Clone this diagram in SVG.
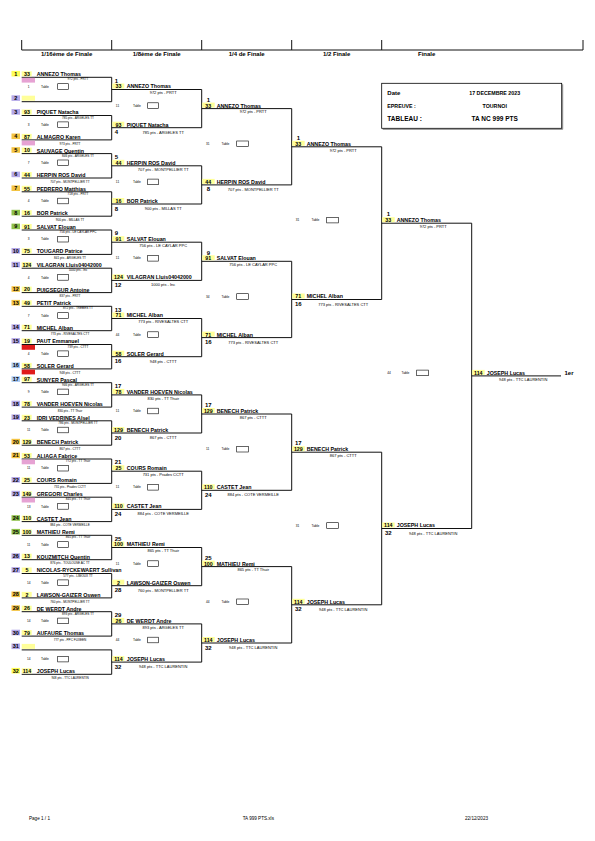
<svg xmlns="http://www.w3.org/2000/svg" width="595" height="841" viewBox="0 0 595 841">
<style>
text{font-family:'Liberation Sans',Arial,sans-serif;fill:#000}
.nm{font-size:5.3px;font-weight:bold}
.sd{font-size:5.3px;font-weight:bold;text-anchor:middle}
.nb{font-size:5.5px;font-weight:bold;text-anchor:middle}
.lb{font-size:6px;font-weight:bold;text-anchor:middle}
.p3{font-size:3.1px;text-anchor:middle}
.p4{font-size:4px;text-anchor:middle}
.tn{font-size:3.2px;text-anchor:middle}
.tt{font-size:3.3px}
.tbx{fill:#fff;stroke:#000;stroke-width:0.6}
.ln{fill:none;stroke:#111;stroke-width:1}
.hd{font-size:6px;font-weight:bold;text-anchor:middle}
.ib{font-size:5.3px;font-weight:bold}
.ibc{font-size:5.3px;font-weight:bold;text-anchor:middle}
.ft{font-size:4.6px}
.cy{fill:#ffff55}.cl{fill:#b4a8e8}.cg{fill:#f3c443}.cG{fill:#8fc14c}.cb{fill:#a9c9f2}
.sb{fill:#ffff99}.pk{fill:#e6a2d3}.rd{fill:#e01b1b}
</style>

<g id="header">
<path class="ln" d="M21.7 40V50H583V40M111.7 40V50M201.7 40V50M291.7 40V50M381.7 40V50"/>
<text class="hd" x="66.7" y="56">1/16ème de Finale</text>
<text class="hd" x="156.7" y="56">1/8ème de Finale</text>
<text class="hd" x="246.7" y="56">1/4 de Finale</text>
<text class="hd" x="336.7" y="56">1/2  Finale</text>
<text class="hd" x="426.7" y="56">Finale</text>
</g>

<g id="infobox">
<path d="M382.7 129.3H562.7V84.3" fill="none" stroke="#888" stroke-width="1"/>
<rect x="381.7" y="83.3" width="180" height="45" fill="#fff" stroke="#000" stroke-width="0.8"/>
<text class="ib" x="387.3" y="95.3" style="font-size:6px">Date</text>
<text class="ibc" x="494.7" y="95.3">17 DECEMBRE 2023</text>
<text class="ib" x="387.3" y="107.7">EPREUVE :</text>
<text class="ibc" x="494.7" y="107.7">TOURNOI</text>
<text class="ib" x="387.3" y="120.7" style="font-size:6.5px">TABLEAU :</text>
<text class="ibc" x="494.7" y="120.7" style="font-size:6.5px">TA NC  999 PTS</text>
</g>

<g id="connectors">
<path class="ln" d="M21.7 77.3H111.7V101.7H21.7M21.7 115.5H111.7V139.9H21.7M21.7 153.6H111.7V178H21.7M21.7 191.8H111.7V216.2H21.7M21.7 230H111.7V254.4H21.7M21.7 268.2H111.7V292.6H21.7M21.7 306.3H111.7V330.7H21.7M21.7 344.5H111.7V368.9H21.7M21.7 382.7H111.7V407.1H21.7M21.7 420.8H111.7V445.2H21.7M21.7 459H111.7V483.4H21.7M21.7 497.2H111.7V521.6H21.7M21.7 535.3H111.7V559.7H21.7M21.7 573.5H111.7V597.9H21.7M21.7 611.7H111.7V636.1H21.7M21.7 649.9H111.7V674.3H21.7"/>
<path class="ln" d="M111.7 89.5H201.7V127.7H111.7M111.7 165.8H201.7V204H111.7M111.7 242.2H201.7V280.4H111.7M111.7 318.5H201.7V356.7H111.7M111.7 394.9H201.7V433H111.7M111.7 471.2H201.7V509.4H111.7M111.7 547.5H201.7V585.7H111.7M111.7 623.9H201.7V662.1H111.7"/>
<path class="ln" d="M201.7 108.6H291.7V184.9H201.7M201.7 261.3H291.7V337.6H201.7M201.7 414H291.7V490.3H201.7M201.7 566.6H291.7V643H201.7"/>
<path class="ln" d="M291.7 146.8H381.7V299.5H291.7M291.7 452.2H381.7V604.8H291.7"/>
<path class="ln" d="M381.7 223.2H471.7V528.5H381.7"/>
<path class="ln" d="M471.7 375.9H561"/>
</g>

<!-- 1/16 entries -->
<g id="n16-01" transform="translate(0 77.3)"><rect class="cy" x="11.5" y="-6.4" width="8.5" height="5.6"/><text class="nb" x="15.75" y="-1.6">1</text><rect class="sb" x="21.7" y="-6" width="10" height="5"/><text class="sd" x="26.9" y="-1.3">33</text><text class="nm" x="36.7" y="-1.1">ANNEZO  Thomas</text><rect class="pk" x="21.7" y="0.5" width="13.3" height="4.8"/><text class="p3" x="78" y="3">972 pts - PRTT</text></g>
<g id="n16-02" transform="translate(0 101.7)"><rect class="cl" x="11.5" y="-6.4" width="8.5" height="5.6"/><text class="nb" x="15.75" y="-1.6">2</text><rect class="sb" x="21.7" y="-6" width="13.3" height="5"/></g>
<g id="n16-03" transform="translate(0 115.5)"><rect class="cl" x="11.5" y="-6.4" width="8.5" height="5.6"/><text class="nb" x="15.75" y="-1.6">3</text><rect class="sb" x="21.7" y="-6" width="10" height="5"/><text class="sd" x="26.9" y="-1.3">93</text><text class="nm" x="36.7" y="-1.1">PIQUET  Natacha</text><text class="p3" x="78" y="3">785 pts - ARGELES TT</text></g>
<g id="n16-04" transform="translate(0 139.9)"><rect class="cg" x="11.5" y="-6.4" width="8.5" height="5.6"/><text class="nb" x="15.75" y="-1.6">4</text><rect class="sb" x="21.7" y="-6" width="10" height="5"/><text class="sd" x="26.9" y="-1.3">87</text><text class="nm" x="36.7" y="-1.1">ALMAGRO  Karen</text><rect class="pk" x="21.7" y="0.7" width="13.3" height="4.8"/><text class="p3" x="70" y="4.7">973 pts - PRTT</text></g>
<g id="n16-05" transform="translate(0 153.6)"><rect class="cg" x="11.5" y="-6.4" width="8.5" height="5.6"/><text class="nb" x="15.75" y="-1.6">5</text><rect class="sb" x="21.7" y="-6" width="10" height="5"/><text class="sd" x="26.9" y="-1.3">10</text><text class="nm" x="36.7" y="-1.1">SAUVAGE  Quentin</text><text class="p3" x="78" y="3">846 pts - ARGELES TT</text></g>
<g id="n16-06" transform="translate(0 178)"><rect class="cl" x="11.5" y="-6.4" width="8.5" height="5.6"/><text class="nb" x="15.75" y="-1.6">6</text><rect class="sb" x="21.7" y="-6" width="10" height="5"/><text class="sd" x="26.9" y="-1.3">44</text><text class="nm" x="36.7" y="-1.1">HERPIN ROS  David</text><text class="p3" x="70" y="4.7">707 pts - MONTPELLIER TT</text></g>
<g id="n16-07" transform="translate(0 191.8)"><rect class="cg" x="11.5" y="-6.4" width="8.5" height="5.6"/><text class="nb" x="15.75" y="-1.6">7</text><rect class="sb" x="21.7" y="-6" width="10" height="5"/><text class="sd" x="26.9" y="-1.3">55</text><text class="nm" x="36.7" y="-1.1">PEDRERO  Matthias</text><text class="p3" x="78" y="3">718 pts - PRTT</text></g>
<g id="n16-08" transform="translate(0 216.2)"><rect class="cG" x="11.5" y="-6.4" width="8.5" height="5.6"/><text class="nb" x="15.75" y="-1.6">8</text><rect class="sb" x="21.7" y="-6" width="10" height="5"/><text class="sd" x="26.9" y="-1.3">16</text><text class="nm" x="36.7" y="-1.1">BOR  Patrick</text><text class="p3" x="70" y="4.7">900 pts - MILLAS TT</text></g>
<g id="n16-09" transform="translate(0 230)"><rect class="cG" x="11.5" y="-6.4" width="8.5" height="5.6"/><text class="nb" x="15.75" y="-1.6">9</text><rect class="sb" x="21.7" y="-6" width="10" height="5"/><text class="sd" x="26.9" y="-1.3">91</text><text class="nm" x="36.7" y="-1.1">SALVAT  Elouan</text><text class="p3" x="78" y="3">756 pts - LE CAYLAR PPC</text></g>
<g id="n16-10" transform="translate(0 254.4)"><rect class="cl" x="11.5" y="-6.4" width="8.5" height="5.6"/><text class="nb" x="15.75" y="-1.6">10</text><rect class="sb" x="21.7" y="-6" width="10" height="5"/><text class="sd" x="26.9" y="-1.3">75</text><text class="nm" x="36.7" y="-1.1">TOUGARD  Patrice</text><text class="p3" x="70" y="4.7">841 pts - ARGELES TT</text></g>
<g id="n16-11" transform="translate(0 268.2)"><rect class="cl" x="11.5" y="-6.4" width="8.5" height="5.6"/><text class="nb" x="15.75" y="-1.6">11</text><rect class="sb" x="21.7" y="-6" width="10" height="5"/><text class="sd" x="26.9" y="-1.3">124</text><text class="nm" x="36.7" y="-1.1">VILAGRAN  Lluis04042000</text><text class="p3" x="78" y="3">1000 pts - Inc</text></g>
<g id="n16-12" transform="translate(0 292.6)"><rect class="cg" x="11.5" y="-6.4" width="8.5" height="5.6"/><text class="nb" x="15.75" y="-1.6">12</text><rect class="sb" x="21.7" y="-6" width="10" height="5"/><text class="sd" x="26.9" y="-1.3">20</text><text class="nm" x="36.7" y="-1.1">PUIGSEGUR  Antoine</text><text class="p3" x="70" y="4.7">837 pts - PRTT</text></g>
<g id="n16-13" transform="translate(0 306.3)"><rect class="cg" x="11.5" y="-6.4" width="8.5" height="5.6"/><text class="nb" x="15.75" y="-1.6">13</text><rect class="sb" x="21.7" y="-6" width="10" height="5"/><text class="sd" x="26.9" y="-1.3">49</text><text class="nm" x="36.7" y="-1.1">PETIT  Patrick</text><text class="p3" x="78" y="3">872 pts - TREBES TT</text></g>
<g id="n16-14" transform="translate(0 330.7)"><rect class="cl" x="11.5" y="-6.4" width="8.5" height="5.6"/><text class="nb" x="15.75" y="-1.6">14</text><rect class="sb" x="21.7" y="-6" width="10" height="5"/><text class="sd" x="26.9" y="-1.3">71</text><text class="nm" x="36.7" y="-1.1">MICHEL  Alban</text><text class="p3" x="70" y="4.7">773 pts - RIVESALTES CTT</text></g>
<g id="n16-15" transform="translate(0 344.5)"><rect class="cl" x="11.5" y="-6.4" width="8.5" height="5.6"/><text class="nb" x="15.75" y="-1.6">15</text><rect class="sb" x="21.7" y="-6" width="10" height="5"/><text class="sd" x="26.9" y="-1.3">19</text><text class="nm" x="36.7" y="-1.1">PAUT  Emmanuel</text><rect class="rd" x="21.7" y="0.5" width="13.3" height="4.8"/><text class="p3" x="78" y="3">739 pts - CTTT</text></g>
<g id="n16-16" transform="translate(0 368.9)"><rect class="cb" x="11.5" y="-6.4" width="8.5" height="5.6"/><text class="nb" x="15.75" y="-1.6">16</text><rect class="sb" x="21.7" y="-6" width="10" height="5"/><text class="sd" x="26.9" y="-1.3">58</text><text class="nm" x="36.7" y="-1.1">SOLER  Gerard</text><rect class="rd" x="21.7" y="0.7" width="13.3" height="4.8"/><text class="p3" x="70" y="4.7">948 pts - CTTT</text></g>
<g id="n16-17" transform="translate(0 382.7)"><rect class="cb" x="11.5" y="-6.4" width="8.5" height="5.6"/><text class="nb" x="15.75" y="-1.6">17</text><rect class="sb" x="21.7" y="-6" width="10" height="5"/><text class="sd" x="26.9" y="-1.3">97</text><text class="nm" x="36.7" y="-1.1">SUNYER  Pascal</text><text class="p3" x="78" y="3">946 pts - ARGELES TT</text></g>
<g id="n16-18" transform="translate(0 407.1)"><rect class="cl" x="11.5" y="-6.4" width="8.5" height="5.6"/><text class="nb" x="15.75" y="-1.6">18</text><rect class="sb" x="21.7" y="-6" width="10" height="5"/><text class="sd" x="26.9" y="-1.3">78</text><text class="nm" x="36.7" y="-1.1">VANDER HOEVEN  Nicolas</text><text class="p3" x="70" y="4.7">830 pts - TT Thuir</text></g>
<g id="n16-19" transform="translate(0 420.8)"><rect class="cl" x="11.5" y="-6.4" width="8.5" height="5.6"/><text class="nb" x="15.75" y="-1.6">19</text><rect class="sb" x="21.7" y="-6" width="10" height="5"/><text class="sd" x="26.9" y="-1.3">23</text><text class="nm" x="36.7" y="-1.1">IDRI VEDRINES  Alsel</text><text class="p3" x="78" y="3">786 pts - MONTPELLIER TT</text></g>
<g id="n16-20" transform="translate(0 445.2)"><rect class="cg" x="11.5" y="-6.4" width="8.5" height="5.6"/><text class="nb" x="15.75" y="-1.6">20</text><rect class="sb" x="21.7" y="-6" width="10" height="5"/><text class="sd" x="26.9" y="-1.3">129</text><text class="nm" x="36.7" y="-1.1">BENECH  Patrick</text><text class="p3" x="70" y="4.7">867 pts - CTTT</text></g>
<g id="n16-21" transform="translate(0 459)"><rect class="cg" x="11.5" y="-6.4" width="8.5" height="5.6"/><text class="nb" x="15.75" y="-1.6">21</text><rect class="sb" x="21.7" y="-6" width="10" height="5"/><text class="sd" x="26.9" y="-1.3">53</text><text class="nm" x="36.7" y="-1.1">ALIAGA  Fabrice</text><rect class="pk" x="21.7" y="0.5" width="13.3" height="4.8"/><text class="p3" x="78" y="3">772 pts - TT Thuir</text></g>
<g id="n16-22" transform="translate(0 483.4)"><rect class="cl" x="11.5" y="-6.4" width="8.5" height="5.6"/><text class="nb" x="15.75" y="-1.6">22</text><rect class="sb" x="21.7" y="-6" width="10" height="5"/><text class="sd" x="26.9" y="-1.3">25</text><text class="nm" x="36.7" y="-1.1">COURS  Romain</text><text class="p3" x="70" y="4.7">731 pts - Prades CCTT</text></g>
<g id="n16-23" transform="translate(0 497.2)"><rect class="cl" x="11.5" y="-6.4" width="8.5" height="5.6"/><text class="nb" x="15.75" y="-1.6">23</text><rect class="sb" x="21.7" y="-6" width="10" height="5"/><text class="sd" x="26.9" y="-1.3">149</text><text class="nm" x="36.7" y="-1.1">GREGORI  Charles</text><rect class="pk" x="21.7" y="0.5" width="13.3" height="4.8"/><text class="p3" x="78" y="3">845 pts - TT Thuir</text></g>
<g id="n16-24" transform="translate(0 521.6)"><rect class="cG" x="11.5" y="-6.4" width="8.5" height="5.6"/><text class="nb" x="15.75" y="-1.6">24</text><rect class="sb" x="21.7" y="-6" width="10" height="5"/><text class="sd" x="26.9" y="-1.3">110</text><text class="nm" x="36.7" y="-1.1">CASTET  Jean</text><text class="p3" x="70" y="4.7">884 pts - COTE VERMEILLE</text></g>
<g id="n16-25" transform="translate(0 535.3)"><rect class="cG" x="11.5" y="-6.4" width="8.5" height="5.6"/><text class="nb" x="15.75" y="-1.6">25</text><rect class="sb" x="21.7" y="-6" width="10" height="5"/><text class="sd" x="26.9" y="-1.3">100</text><text class="nm" x="36.7" y="-1.1">MATHIEU  Remi</text><text class="p3" x="78" y="3">865 pts - TT Thuir</text></g>
<g id="n16-26" transform="translate(0 559.7)"><rect class="cl" x="11.5" y="-6.4" width="8.5" height="5.6"/><text class="nb" x="15.75" y="-1.6">26</text><rect class="sb" x="21.7" y="-6" width="10" height="5"/><text class="sd" x="26.9" y="-1.3">13</text><text class="nm" x="36.7" y="-1.1">KOUZMITCH  Quentin</text><text class="p3" x="70" y="4.7">876 pts - TOULOUSE AC TT</text></g>
<g id="n16-27" transform="translate(0 573.5)"><rect class="cl" x="11.5" y="-6.4" width="8.5" height="5.6"/><text class="nb" x="15.75" y="-1.6">27</text><rect class="sb" x="21.7" y="-6" width="10" height="5"/><text class="sd" x="26.9" y="-1.3">5</text><text class="nm" x="36.7" y="-1.1">NICOLAS-RYCKEWAERT  Sullivan</text><text class="p3" x="78" y="3">577 pts - LIMOUX TT</text></g>
<g id="n16-28" transform="translate(0 597.9)"><rect class="cg" x="11.5" y="-6.4" width="8.5" height="5.6"/><text class="nb" x="15.75" y="-1.6">28</text><rect class="sb" x="21.7" y="-6" width="10" height="5"/><text class="sd" x="26.9" y="-1.3">2</text><text class="nm" x="36.7" y="-1.1">LAWSON-GAIZER  Oswen</text><text class="p3" x="70" y="4.7">760 pts - MONTPELLIER TT</text></g>
<g id="n16-29" transform="translate(0 611.7)"><rect class="cg" x="11.5" y="-6.4" width="8.5" height="5.6"/><text class="nb" x="15.75" y="-1.6">29</text><rect class="sb" x="21.7" y="-6" width="10" height="5"/><text class="sd" x="26.9" y="-1.3">26</text><text class="nm" x="36.7" y="-1.1">DE WERDT  Andre</text><text class="p3" x="78" y="3">893 pts - ARGELES TT</text></g>
<g id="n16-30" transform="translate(0 636.1)"><rect class="cl" x="11.5" y="-6.4" width="8.5" height="5.6"/><text class="nb" x="15.75" y="-1.6">30</text><rect class="sb" x="21.7" y="-6" width="10" height="5"/><text class="sd" x="26.9" y="-1.3">79</text><text class="nm" x="36.7" y="-1.1">AUFAURE  Thomas</text><text class="p3" x="70" y="4.7">777 pts - PPC FUXEEN</text></g>
<g id="n16-31" transform="translate(0 649.9)"><rect class="cl" x="11.5" y="-6.4" width="8.5" height="5.6"/><text class="nb" x="15.75" y="-1.6">31</text><rect class="sb" x="21.7" y="-6" width="13.3" height="5"/></g>
<g id="n16-32" transform="translate(0 674.3)"><rect class="cy" x="11.5" y="-6.4" width="8.5" height="5.6"/><text class="nb" x="15.75" y="-1.6">32</text><rect class="sb" x="21.7" y="-6" width="10" height="5"/><text class="sd" x="26.9" y="-1.3">114</text><text class="nm" x="36.7" y="-1.1">JOSEPH  Lucas</text><text class="p3" x="70" y="4.7">948 pts - TTC LAURENTIN</text></g>

<!-- 1/16 tables -->
<g id="t16-01" transform="translate(0 86.5)"><text class="tn" x="28.7" y="1.1">1</text><text class="tt" x="41" y="1.1">Table</text><rect class="tbx" x="57.7" y="-2.8" width="10.6" height="5.6"/></g>
<g id="t16-02" transform="translate(0 124.7)"><text class="tn" x="28.7" y="1.1">3</text><text class="tt" x="41" y="1.1">Table</text><rect class="tbx" x="57.7" y="-2.8" width="10.6" height="5.6"/></g>
<g id="t16-03" transform="translate(0 162.8)"><text class="tn" x="28.7" y="1.1">7</text><text class="tt" x="41" y="1.1">Table</text><rect class="tbx" x="57.7" y="-2.8" width="10.6" height="5.6"/></g>
<g id="t16-04" transform="translate(0 201)"><text class="tn" x="28.7" y="1.1">4</text><text class="tt" x="41" y="1.1">Table</text><rect class="tbx" x="57.7" y="-2.8" width="10.6" height="5.6"/></g>
<g id="t16-05" transform="translate(0 239.2)"><text class="tn" x="28.7" y="1.1">3</text><text class="tt" x="41" y="1.1">Table</text><rect class="tbx" x="57.7" y="-2.8" width="10.6" height="5.6"/></g>
<g id="t16-06" transform="translate(0 277.4)"><text class="tn" x="28.7" y="1.1">4</text><text class="tt" x="41" y="1.1">Table</text><rect class="tbx" x="57.7" y="-2.8" width="10.6" height="5.6"/></g>
<g id="t16-07" transform="translate(0 315.5)"><text class="tn" x="28.7" y="1.1">7</text><text class="tt" x="41" y="1.1">Table</text><rect class="tbx" x="57.7" y="-2.8" width="10.6" height="5.6"/></g>
<g id="t16-08" transform="translate(0 353.7)"><text class="tn" x="28.7" y="1.1">4</text><text class="tt" x="41" y="1.1">Table</text><rect class="tbx" x="57.7" y="-2.8" width="10.6" height="5.6"/></g>
<g id="t16-09" transform="translate(0 391.9)"><text class="tn" x="28.7" y="1.1">9</text><text class="tt" x="41" y="1.1">Table</text><rect class="tbx" x="57.7" y="-2.8" width="10.6" height="5.6"/></g>
<g id="t16-10" transform="translate(0 430)"><text class="tn" x="28.7" y="1.1">11</text><text class="tt" x="41" y="1.1">Table</text><rect class="tbx" x="57.7" y="-2.8" width="10.6" height="5.6"/></g>
<g id="t16-11" transform="translate(0 468.2)"><text class="tn" x="28.7" y="1.1">11</text><text class="tt" x="41" y="1.1">Table</text><rect class="tbx" x="57.7" y="-2.8" width="10.6" height="5.6"/></g>
<g id="t16-12" transform="translate(0 506.4)"><text class="tn" x="28.7" y="1.1">13</text><text class="tt" x="41" y="1.1">Table</text><rect class="tbx" x="57.7" y="-2.8" width="10.6" height="5.6"/></g>
<g id="t16-13" transform="translate(0 544.5)"><text class="tn" x="28.7" y="1.1">11</text><text class="tt" x="41" y="1.1">Table</text><rect class="tbx" x="57.7" y="-2.8" width="10.6" height="5.6"/></g>
<g id="t16-14" transform="translate(0 582.7)"><text class="tn" x="28.7" y="1.1">14</text><text class="tt" x="41" y="1.1">Table</text><rect class="tbx" x="57.7" y="-2.8" width="10.6" height="5.6"/></g>
<g id="t16-15" transform="translate(0 620.9)"><text class="tn" x="28.7" y="1.1">14</text><text class="tt" x="41" y="1.1">Table</text><rect class="tbx" x="57.7" y="-2.8" width="10.6" height="5.6"/></g>
<g id="t16-16" transform="translate(0 659.1)"><text class="tn" x="28.7" y="1.1">14</text><text class="tt" x="41" y="1.1">Table</text><rect class="tbx" x="57.7" y="-2.8" width="10.6" height="5.6"/></g>

<!-- 1/8 entries -->
<g id="n8-01" transform="translate(0 89.5)"><text class="lb" x="116.5" y="-6.8">1</text><rect class="sb" x="112.3" y="-6" width="12" height="5"/><text class="sd" x="118.5" y="-1.1">33</text><text class="nm" x="126.7" y="-1.1">ANNEZO  Thomas</text><text class="p4" x="163.2" y="4.9">972 pts - PRTT</text></g>
<g id="n8-04" transform="translate(0 127.7)"><rect class="sb" x="112.3" y="-6" width="12" height="5"/><text class="sd" x="118.5" y="-1.1">93</text><text class="nm" x="126.7" y="-1.1">PIQUET  Natacha</text><text class="lb" x="116.5" y="6.6">4</text><text class="p4" x="163.2" y="6">785 pts - ARGELES TT</text></g>
<g id="n8-05" transform="translate(0 165.8)"><text class="lb" x="116.5" y="-6.8">5</text><rect class="sb" x="112.3" y="-6" width="12" height="5"/><text class="sd" x="118.5" y="-1.1">44</text><text class="nm" x="126.7" y="-1.1">HERPIN ROS  David</text><text class="p4" x="163.2" y="4.9">707 pts - MONTPELLIER TT</text></g>
<g id="n8-08" transform="translate(0 204)"><rect class="sb" x="112.3" y="-6" width="12" height="5"/><text class="sd" x="118.5" y="-1.1">16</text><text class="nm" x="126.7" y="-1.1">BOR  Patrick</text><text class="lb" x="116.5" y="6.6">8</text><text class="p4" x="163.2" y="6">900 pts - MILLAS TT</text></g>
<g id="n8-09" transform="translate(0 242.2)"><text class="lb" x="116.5" y="-6.8">9</text><rect class="sb" x="112.3" y="-6" width="12" height="5"/><text class="sd" x="118.5" y="-1.1">91</text><text class="nm" x="126.7" y="-1.1">SALVAT  Elouan</text><text class="p4" x="163.2" y="4.9">756 pts - LE CAYLAR PPC</text></g>
<g id="n8-12" transform="translate(0 280.4)"><rect class="sb" x="112.3" y="-6" width="12" height="5"/><text class="sd" x="118.5" y="-1.1">124</text><text class="nm" x="126.7" y="-1.1">VILAGRAN  Lluis04042000</text><text class="lb" x="118" y="6.6">12</text><text class="p4" x="163.2" y="6">1000 pts - Inc</text></g>
<g id="n8-13" transform="translate(0 318.5)"><text class="lb" x="118" y="-6.8">13</text><rect class="sb" x="112.3" y="-6" width="12" height="5"/><text class="sd" x="118.5" y="-1.1">71</text><text class="nm" x="126.7" y="-1.1">MICHEL  Alban</text><text class="p4" x="163.2" y="4.9">773 pts - RIVESALTES CTT</text></g>
<g id="n8-16" transform="translate(0 356.7)"><rect class="sb" x="112.3" y="-6" width="12" height="5"/><text class="sd" x="118.5" y="-1.1">58</text><text class="nm" x="126.7" y="-1.1">SOLER  Gerard</text><text class="lb" x="118" y="6.6">16</text><text class="p4" x="163.2" y="6">948 pts - CTTT</text></g>
<g id="n8-17" transform="translate(0 394.9)"><text class="lb" x="118" y="-6.8">17</text><rect class="sb" x="112.3" y="-6" width="12" height="5"/><text class="sd" x="118.5" y="-1.1">78</text><text class="nm" x="126.7" y="-1.1">VANDER HOEVEN  Nicolas</text><text class="p4" x="163.2" y="4.9">830 pts - TT Thuir</text></g>
<g id="n8-20" transform="translate(0 433)"><rect class="sb" x="112.3" y="-6" width="12" height="5"/><text class="sd" x="118.5" y="-1.1">129</text><text class="nm" x="126.7" y="-1.1">BENECH  Patrick</text><text class="lb" x="118" y="6.6">20</text><text class="p4" x="163.2" y="6">867 pts - CTTT</text></g>
<g id="n8-21" transform="translate(0 471.2)"><text class="lb" x="118" y="-6.8">21</text><rect class="sb" x="112.3" y="-6" width="12" height="5"/><text class="sd" x="118.5" y="-1.1">25</text><text class="nm" x="126.7" y="-1.1">COURS  Romain</text><text class="p4" x="163.2" y="4.9">731 pts - Prades CCTT</text></g>
<g id="n8-24" transform="translate(0 509.4)"><rect class="sb" x="112.3" y="-6" width="12" height="5"/><text class="sd" x="118.5" y="-1.1">110</text><text class="nm" x="126.7" y="-1.1">CASTET  Jean</text><text class="lb" x="118" y="6.6">24</text><text class="p4" x="163.2" y="6">884 pts - COTE VERMEILLE</text></g>
<g id="n8-25" transform="translate(0 547.5)"><text class="lb" x="118" y="-6.8">25</text><rect class="sb" x="112.3" y="-6" width="12" height="5"/><text class="sd" x="118.5" y="-1.1">100</text><text class="nm" x="126.7" y="-1.1">MATHIEU  Remi</text><text class="p4" x="163.2" y="4.9">865 pts - TT Thuir</text></g>
<g id="n8-28" transform="translate(0 585.7)"><rect class="sb" x="112.3" y="-6" width="12" height="5"/><text class="sd" x="118.5" y="-1.1">2</text><text class="nm" x="126.7" y="-1.1">LAWSON-GAIZER  Oswen</text><text class="lb" x="118" y="6.6">28</text><text class="p4" x="163.2" y="6">760 pts - MONTPELLIER TT</text></g>
<g id="n8-29" transform="translate(0 623.9)"><text class="lb" x="118" y="-6.8">29</text><rect class="sb" x="112.3" y="-6" width="12" height="5"/><text class="sd" x="118.5" y="-1.1">26</text><text class="nm" x="126.7" y="-1.1">DE WERDT  Andre</text><text class="p4" x="163.2" y="4.9">893 pts - ARGELES TT</text></g>
<g id="n8-32" transform="translate(0 662.1)"><rect class="sb" x="112.3" y="-6" width="12" height="5"/><text class="sd" x="118.5" y="-1.1">114</text><text class="nm" x="126.7" y="-1.1">JOSEPH  Lucas</text><text class="lb" x="118" y="6.6">32</text><text class="p4" x="163.2" y="6">948 pts - TTC LAURENTIN</text></g>

<!-- 1/8 tables -->
<g id="t8-1" transform="translate(0 105.6)"><text class="tn" x="117.5" y="1.1">11</text><text class="tt" x="133" y="1.1">Table</text><rect class="tbx" x="147.7" y="-2.8" width="10.6" height="5.6"/></g>
<g id="t8-2" transform="translate(0 181.9)"><text class="tn" x="117.5" y="1.1">11</text><text class="tt" x="133" y="1.1">Table</text><rect class="tbx" x="147.7" y="-2.8" width="10.6" height="5.6"/></g>
<g id="t8-3" transform="translate(0 258.3)"><text class="tn" x="117.5" y="1.1">11</text><text class="tt" x="133" y="1.1">Table</text><rect class="tbx" x="147.7" y="-2.8" width="10.6" height="5.6"/></g>
<g id="t8-4" transform="translate(0 334.6)"><text class="tn" x="117.5" y="1.1">44</text><text class="tt" x="133" y="1.1">Table</text><rect class="tbx" x="147.7" y="-2.8" width="10.6" height="5.6"/></g>
<g id="t8-5" transform="translate(0 411)"><text class="tn" x="117.5" y="1.1">11</text><text class="tt" x="133" y="1.1">Table</text><rect class="tbx" x="147.7" y="-2.8" width="10.6" height="5.6"/></g>
<g id="t8-6" transform="translate(0 487.3)"><text class="tn" x="117.5" y="1.1">11</text><text class="tt" x="133" y="1.1">Table</text><rect class="tbx" x="147.7" y="-2.8" width="10.6" height="5.6"/></g>
<g id="t8-7" transform="translate(0 563.6)"><text class="tn" x="117.5" y="1.1">11</text><text class="tt" x="133" y="1.1">Table</text><rect class="tbx" x="147.7" y="-2.8" width="10.6" height="5.6"/></g>
<g id="t8-8" transform="translate(0 640)"><text class="tn" x="117.5" y="1.1">44</text><text class="tt" x="133" y="1.1">Table</text><rect class="tbx" x="147.7" y="-2.8" width="10.6" height="5.6"/></g>

<!-- 1/4 entries -->
<g id="n4-01" transform="translate(0 108.6)"><text class="lb" x="208.3" y="-6.8">1</text><rect class="sb" x="202.2" y="-6" width="12.5" height="5"/><text class="sd" x="208.3" y="-1.1">33</text><text class="nm" x="216.7" y="-1.1">ANNEZO  Thomas</text><text class="p4" x="253.2" y="4.9">972 pts - PRTT</text></g>
<g id="n4-08" transform="translate(0 184.9)"><rect class="sb" x="202.2" y="-6" width="12.5" height="5"/><text class="sd" x="208.3" y="-1.1">44</text><text class="nm" x="216.7" y="-1.1">HERPIN ROS  David</text><text class="lb" x="208.3" y="6.6">8</text><text class="p4" x="253.2" y="6">707 pts - MONTPELLIER TT</text></g>
<g id="n4-09" transform="translate(0 261.3)"><text class="lb" x="208.3" y="-6.8">9</text><rect class="sb" x="202.2" y="-6" width="12.5" height="5"/><text class="sd" x="208.3" y="-1.1">91</text><text class="nm" x="216.7" y="-1.1">SALVAT  Elouan</text><text class="p4" x="253.2" y="4.9">756 pts - LE CAYLAR PPC</text></g>
<g id="n4-16" transform="translate(0 337.6)"><rect class="sb" x="202.2" y="-6" width="12.5" height="5"/><text class="sd" x="208.3" y="-1.1">71</text><text class="nm" x="216.7" y="-1.1">MICHEL  Alban</text><text class="lb" x="208.3" y="6.6">16</text><text class="p4" x="253.2" y="6">773 pts - RIVESALTES CTT</text></g>
<g id="n4-17" transform="translate(0 414)"><text class="lb" x="208.3" y="-6.8">17</text><rect class="sb" x="202.2" y="-6" width="12.5" height="5"/><text class="sd" x="208.3" y="-1.1">129</text><text class="nm" x="216.7" y="-1.1">BENECH  Patrick</text><text class="p4" x="253.2" y="4.9">867 pts - CTTT</text></g>
<g id="n4-24" transform="translate(0 490.3)"><rect class="sb" x="202.2" y="-6" width="12.5" height="5"/><text class="sd" x="208.3" y="-1.1">110</text><text class="nm" x="216.7" y="-1.1">CASTET  Jean</text><text class="lb" x="208.3" y="6.6">24</text><text class="p4" x="253.2" y="6">884 pts - COTE VERMEILLE</text></g>
<g id="n4-25" transform="translate(0 566.6)"><text class="lb" x="208.3" y="-6.8">25</text><rect class="sb" x="202.2" y="-6" width="12.5" height="5"/><text class="sd" x="208.3" y="-1.1">100</text><text class="nm" x="216.7" y="-1.1">MATHIEU  Remi</text><text class="p4" x="253.2" y="4.9">865 pts - TT Thuir</text></g>
<g id="n4-32" transform="translate(0 643)"><rect class="sb" x="202.2" y="-6" width="12.5" height="5"/><text class="sd" x="208.3" y="-1.1">114</text><text class="nm" x="216.7" y="-1.1">JOSEPH  Lucas</text><text class="lb" x="208.3" y="6.6">32</text><text class="p4" x="253.2" y="6">948 pts - TTC LAURENTIN</text></g>

<!-- 1/4 tables -->
<g id="t4-1" transform="translate(0 143.8)"><text class="tn" x="207.7" y="1.1">31</text><text class="tt" x="221.5" y="1.1">Table</text><rect class="tbx" x="236.7" y="-2.8" width="11.6" height="5.6"/></g>
<g id="t4-2" transform="translate(0 296.5)"><text class="tn" x="207.7" y="1.1">34</text><text class="tt" x="221.5" y="1.1">Table</text><rect class="tbx" x="236.7" y="-2.8" width="11.6" height="5.6"/></g>
<g id="t4-3" transform="translate(0 449.2)"><text class="tn" x="207.7" y="1.1">11</text><text class="tt" x="221.5" y="1.1">Table</text><rect class="tbx" x="236.7" y="-2.8" width="11.6" height="5.6"/></g>
<g id="t4-4" transform="translate(0 601.8)"><text class="tn" x="207.7" y="1.1">44</text><text class="tt" x="221.5" y="1.1">Table</text><rect class="tbx" x="236.7" y="-2.8" width="11.6" height="5.6"/></g>

<!-- 1/2 entries -->
<g id="n2-01" transform="translate(0 146.8)"><text class="lb" x="298.3" y="-6.8">1</text><rect class="sb" x="292.2" y="-6" width="12.5" height="5"/><text class="sd" x="298.3" y="-1.1">33</text><text class="nm" x="306.7" y="-1.1">ANNEZO  Thomas</text><text class="p4" x="343.2" y="4.9">972 pts - PRTT</text></g>
<g id="n2-16" transform="translate(0 299.5)"><rect class="sb" x="292.2" y="-6" width="12.5" height="5"/><text class="sd" x="298.3" y="-1.1">71</text><text class="nm" x="306.7" y="-1.1">MICHEL  Alban</text><text class="lb" x="298.3" y="6.6">16</text><text class="p4" x="343.2" y="6">773 pts - RIVESALTES CTT</text></g>
<g id="n2-17" transform="translate(0 452.2)"><text class="lb" x="298.3" y="-6.8">17</text><rect class="sb" x="292.2" y="-6" width="12.5" height="5"/><text class="sd" x="298.3" y="-1.1">129</text><text class="nm" x="306.7" y="-1.1">BENECH  Patrick</text><text class="p4" x="343.2" y="4.9">867 pts - CTTT</text></g>
<g id="n2-32" transform="translate(0 604.8)"><rect class="sb" x="292.2" y="-6" width="12.5" height="5"/><text class="sd" x="298.3" y="-1.1">114</text><text class="nm" x="306.7" y="-1.1">JOSEPH  Lucas</text><text class="lb" x="298.3" y="6.6">32</text><text class="p4" x="343.2" y="6">948 pts - TTC LAURENTIN</text></g>

<!-- 1/2 tables -->
<g id="t2-1" transform="translate(0 220.1)"><text class="tn" x="297.5" y="1.1">31</text><text class="tt" x="311.5" y="1.1">Table</text><rect class="tbx" x="326.7" y="-2.8" width="11.6" height="5.6"/></g>
<g id="t2-2" transform="translate(0 525.5)"><text class="tn" x="297.5" y="1.1">31</text><text class="tt" x="311.5" y="1.1">Table</text><rect class="tbx" x="326.7" y="-2.8" width="11.6" height="5.6"/></g>

<!-- Final -->
<g id="nf-01" transform="translate(0 223.2)"><text class="lb" x="388.3" y="-6.8">1</text><rect class="sb" x="382.2" y="-6" width="12.5" height="5"/><text class="sd" x="388.3" y="-1.1">33</text><text class="nm" x="396.7" y="-1.1">ANNEZO  Thomas</text><text class="p4" x="433.2" y="4.9">972 pts - PRTT</text></g>
<g id="nf-32" transform="translate(0 528.5)"><rect class="sb" x="382.2" y="-6" width="12.5" height="5"/><text class="sd" x="388.3" y="-1.1">114</text><text class="nm" x="396.7" y="-1.1">JOSEPH  Lucas</text><text class="lb" x="388.3" y="6.6">32</text><text class="p4" x="433.2" y="6">948 pts - TTC LAURENTIN</text></g>
<g id="tf" transform="translate(0 372.9)"><text class="tn" x="389" y="1.1">44</text><text class="tt" x="401.5" y="1.1">Table</text><rect class="tbx" x="416.7" y="-2.8" width="11.6" height="5.6"/></g>

<!-- Winner -->
<g id="winner" transform="translate(0 375.9)"><rect class="sb" x="472.2" y="-6" width="12.5" height="5"/><text class="sd" x="478.3" y="-1.1">114</text><text class="nm" x="486.7" y="-1.1">JOSEPH  Lucas</text><text class="lb" x="569" y="-1.1">1er</text><text class="p4" x="523.2" y="4.9">948 pts - TTC LAURENTIN</text></g>

<g id="footer">
<text class="ft" x="29" y="819.5">Page 1 / 1</text>
<text class="ft" x="258.3" y="819.5" text-anchor="middle">TA 999 PTS.xls</text>
<text class="ft" x="465" y="819.5">22/12/2023</text>
</g>
</svg>
